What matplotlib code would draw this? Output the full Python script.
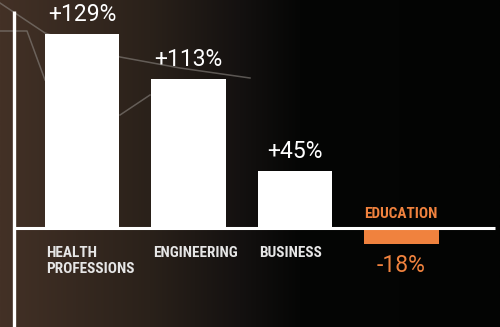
import matplotlib
matplotlib.use("Agg")
import matplotlib.pyplot as plt
import numpy as np
from matplotlib import font_manager
from matplotlib.colors import LinearSegmentedColormap

categories = ["HEALTH\nPROFESSIONS", "ENGINEERING", "BUSINESS", "EDUCATION"]
change_labels = ["+129%", "+113%", "+45%", "-18%"]
# bar heights as drawn in the graphic (not to scale with the labels)
bar_heights = [129, 99, 38, -10.6]

WHITE = "#ffffff"
ORANGE = "#f0823e"
LABEL_GREY = "#e6e6e6"

installed = {f.name for f in font_manager.fontManager.ttflist}
narrow = next((f for f in ["Liberation Sans Narrow", "Roboto Condensed", "DejaVu Sans Condensed"]
               if f in installed), "Roboto")
value_font = "Roboto" if "Roboto" in installed else "DejaVu Sans"

fig = plt.figure(figsize=(5.0, 3.27), dpi=100)

# background: warm brown fading to black on the right
bg = fig.add_axes([0, 0, 1, 1], zorder=0)
cmap = LinearSegmentedColormap.from_list(
    "bg", [(0.0, "#433126"), (0.3, "#2a211a"), (0.48, "#141110"), (0.6, "#050605"), (1.0, "#030403")])
grad = np.linspace(0, 1, 256)[None, :]
bg.imshow(grad, cmap=cmap, aspect="auto", extent=[0, 500, 327, 0])
# faint decorative trend lines in the top-left corner
line_kw = dict(color="#8a8580", lw=1.1, alpha=0.6)
bg.plot([0, 45, 120, 180, 250], [3, 33, 57, 68, 78], **line_kw)
bg.plot([0, 27, 45], [31, 31, 80], **line_kw)
bg.plot([120, 150], [115, 95], **line_kw)
bg.set_xlim(0, 500)
bg.set_ylim(327, 0)
bg.axis("off")

ax = fig.add_axes([0, 0, 1, 1], zorder=1)
ax.patch.set_alpha(0)
x = np.arange(len(categories))
colors = [WHITE if v >= 0 else ORANGE for v in bar_heights]
ax.bar(x, bar_heights, width=0.695, color=colors, zorder=2)

px_x = 106.5
px_y = 1.504
ax.set_xlim(-82 / px_x, (500 - 82) / px_x)
ax.set_ylim(-99 / px_y, 228 / px_y)

# axes lines
x_left = (13.5 - 82) / px_x
x_right = (495 - 82) / px_x
ax.plot([x_left, x_right], [0, 0], color=WHITE, lw=2.2, zorder=3, solid_capstyle="butt")
ax.plot([x_left, x_left], [ax.get_ylim()[0], 217 / px_y], color=WHITE, lw=2.4, zorder=3,
        solid_capstyle="butt")

half = 0.3475
for i, (cat, lab, h) in enumerate(zip(categories, change_labels, bar_heights)):
    if h >= 0:
        ax.annotate(lab, (i, h), xytext=(0, 6), textcoords="offset points",
                    ha="center", va="bottom", color=WHITE, fontsize=16.5, family=value_font)
        ax.annotate(cat, (i - half, 0), xytext=(1, -13), textcoords="offset points",
                    ha="left", va="top", color=LABEL_GREY, fontsize=11, family=narrow,
                    fontweight="bold", linespacing=1.2)
    else:
        ax.annotate(lab, (i, h), xytext=(0, -7), textcoords="offset points",
                    ha="center", va="top", color=ORANGE, fontsize=16.5, family=value_font)
        ax.annotate(cat, (i - half, 0), xytext=(0, 5), textcoords="offset points",
                    ha="left", va="bottom", color=ORANGE, fontsize=11, family=narrow,
                    fontweight="bold")

ax.axis("off")
fig.savefig("out.png", dpi=100)
